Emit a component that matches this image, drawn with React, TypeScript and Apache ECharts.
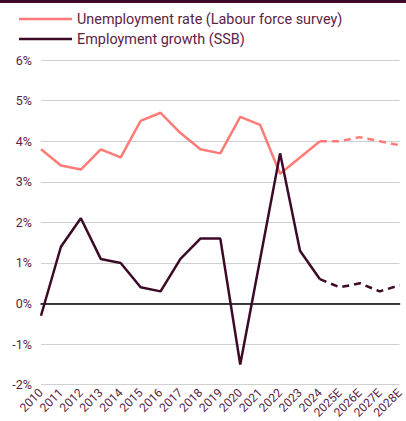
import React, { useEffect, useRef } from "react";
import * as echarts from "echarts";

const categories = ["2010","2011","2012","2013","2014","2015","2016","2017","2018","2019","2020","2021","2022","2023","2024","2025E","2026E","2027E","2028E"];
const unemployment = [3.8,3.4,3.3,3.8,3.6,4.5,4.7,4.2,3.8,3.7,4.6,4.4,3.2,3.6,4.0,4.0,4.1,4.0,3.9];
const employment = [-0.3,1.4,2.1,1.1,1.0,0.4,0.3,1.1,1.6,1.6,-1.5,1.1,3.7,1.3,0.6,0.4,0.5,0.3,0.45];
const lastActualIndex = 14;

const RED = "#ff7b77";
const DARK = "#3c0a27";
const TEXT = "#5a2445";
const FONT = "Roboto, 'Noto Sans', sans-serif";

const solid = (arr: number[]) => arr.map((v, i) => (i <= lastActualIndex ? v : null));
const dashed = (arr: number[]) => arr.map((v, i) => (i >= lastActualIndex ? v : null));

export default function App() {
  const ref = useRef<HTMLDivElement>(null);
  useEffect(() => {
    const chart = echarts.init(ref.current!, undefined, { renderer: "svg" });
    chart.setOption({
      animation: false,
      textStyle: { fontFamily: FONT },
      graphic: [
        { type: "rect", left: 0, top: 0, shape: { width: 406, height: 3 }, style: { fill: DARK } },
      ],
      legend: {
        data: ["Unemployment rate (Labour force survey)", "Employment growth (SSB)"],
        orient: "vertical",
        left: 14,
        top: 7,
        itemWidth: 53,
        itemHeight: 10,
        itemGap: 6,
        icon: "path://M0,4L53,4L53,6.5L0,6.5Z",
        textStyle: { color: TEXT, fontSize: 14.4, fontFamily: FONT },
      },
      grid: { left: 41, right: 1, top: 60, bottom: 36 },
      xAxis: {
        type: "category",
        data: categories,
        boundaryGap: false,
        axisLine: { onZero: true, lineStyle: { color: "#000", width: 1.5 } },
        axisTick: { show: false },
        axisLabel: { rotate: 45, color: TEXT, fontSize: 12, margin: 6, interval: 0, fontFamily: FONT },
      },
      yAxis: {
        type: "value",
        min: -2,
        max: 6,
        interval: 1,
        axisLabel: { formatter: "{value}%", color: TEXT, fontSize: 12.5, margin: 9, fontFamily: FONT },
        splitLine: { lineStyle: { color: "#d0d0d0", width: 1.2 } },
        axisLine: { show: false },
        axisTick: { show: false },
      },
      series: [
        {
          name: "Unemployment rate (Labour force survey)",
          type: "line",
          data: solid(unemployment),
          symbol: "none",
          lineStyle: { color: RED, width: 2.5 },
          itemStyle: { color: RED },
        },
        {
          name: "Unemployment forecast",
          type: "line",
          data: dashed(unemployment),
          symbol: "none",
          lineStyle: { color: RED, width: 2.5, type: [7, 5] },
          itemStyle: { color: RED },
        },
        {
          name: "Employment growth (SSB)",
          type: "line",
          data: solid(employment),
          symbol: "none",
          lineStyle: { color: DARK, width: 2.5 },
          itemStyle: { color: DARK },
        },
        {
          name: "Employment forecast",
          type: "line",
          data: dashed(employment),
          symbol: "none",
          lineStyle: { color: DARK, width: 2.5, type: [7, 5] },
          itemStyle: { color: DARK },
        },
      ],
    });
    return () => chart.dispose();
  }, []);
  return <div ref={ref} style={{ width: 406, height: 421, position: "absolute", left: 0, top: 0 }} />;
}
